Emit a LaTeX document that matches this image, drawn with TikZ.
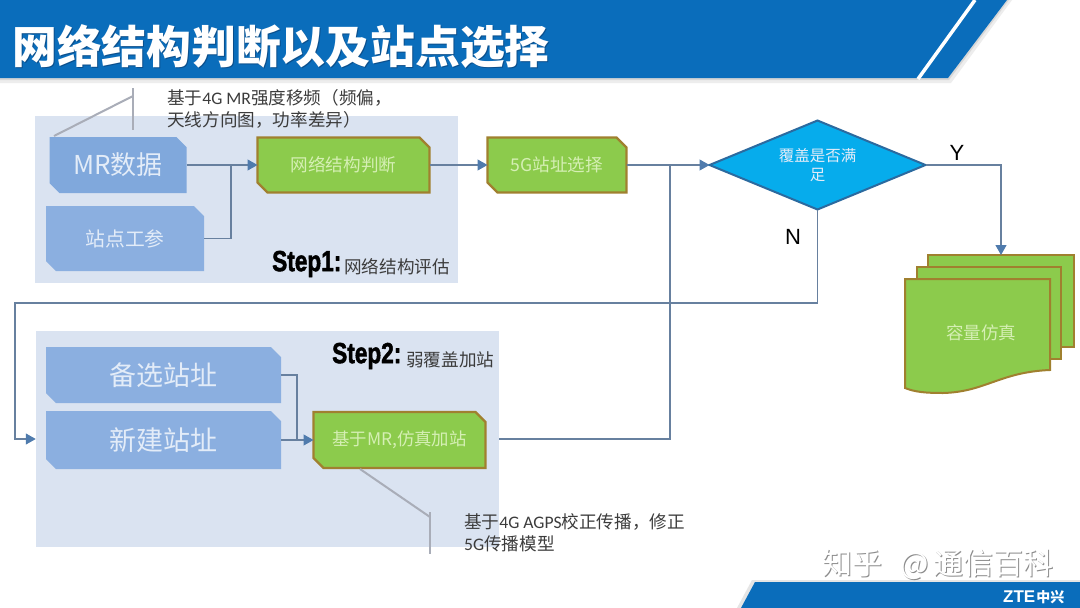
\documentclass[tikz,border=0pt]{standalone}
\usepackage{fontspec}
\usepackage{graphicx}
\usetikzlibrary{arrows.meta,shapes.geometric,shapes.misc}
\setmainfont{Carlito}
\newfontfamily\cjk{Noto Sans CJK SC}
\newfontfamily\cjkb{Noto Sans CJK SC Black}
\newfontfamily\lsans{Liberation Sans}
\newfontfamily\lsansheavy[FakeBold=2]{Liberation Sans Bold}
\newcommand{\fsz}[1]{\fontsize{#1}{#1}\selectfont}
\definecolor{barblue}{HTML}{0A6DBB}
\definecolor{bardark}{HTML}{0B4F8C}
\definecolor{panelbg}{HTML}{DAE3F1}
\definecolor{boxblue}{HTML}{8BAFE0}
\definecolor{boxblue2}{HTML}{80A8DC}
\definecolor{leafgreen}{HTML}{8CCB4C}
\definecolor{leafedge}{HTML}{A0802F}
\definecolor{diafill}{HTML}{06ACEC}
\definecolor{diaedge}{HTML}{2B6A9F}
\definecolor{wire}{HTML}{67809F}
\definecolor{tip}{HTML}{4F7BAD}
\definecolor{callgray}{HTML}{A9ADB8}
\definecolor{paletext}{HTML}{E3ECF8}
\definecolor{greentext}{HTML}{D5EFB4}
\definecolor{ink}{HTML}{3C3C3C}
\tikzset{
  x=1pt,y=-1pt,
  panelbox/.style={fill=panelbg,draw=none,inner sep=0pt,outer sep=0pt},
  bluebox/.style={chamfered rectangle,chamfered rectangle corners={north east,south west},
    chamfered rectangle xsep=5pt,chamfered rectangle ysep=5pt,fill=boxblue,draw=none,
    inner sep=0pt,outer sep=0pt,text=paletext,font=\cjk},
  greenbox/.style={chamfered rectangle,chamfered rectangle corners={north east,south west},
    chamfered rectangle xsep=5pt,chamfered rectangle ysep=5pt,fill=leafgreen,draw=leafedge,line width=2.2pt,
    inner sep=0pt,outer sep=0pt,text=greentext,font=\cjk},
  sheet/.style={rectangle,fill=leafgreen,draw=leafedge,line width=2pt,inner sep=0pt,outer sep=0pt},
  wireline/.style={draw=wire,line width=1.2pt},
  flow/.style={wireline,-{Triangle[length=10pt,width=11pt,fill=tip,color=tip]}},
  callout/.style={draw=callgray,line width=2pt},
  note/.style={anchor=west,inner sep=0pt,text=ink,align=left,font=\fsz{17.6}},
  yn/.style={inner sep=0pt,text=black,font=\lsans\fsz{22}},
}
\begin{document}
\begin{tikzpicture}
\useasboundingbox (0,0) rectangle (1080,608);
\fill[white] (0,0) rectangle (1080,608);
% title band
\fill[black!7] (0,78) -- (948,78) -- (1009,0) -- (1012,0) -- (951,83) -- (0,83) -- cycle;
\fill[black!16] (0,78) -- (948,78) -- (1007,0) -- (1009,0) -- (949,80) -- (0,80) -- cycle;
\fill[barblue] (0,0) -- (1007,0) -- (948,78) -- (0,78) -- cycle;
\draw[white,line width=3.5pt] (975,0) -- (918,79);
\node[inner sep=0pt,anchor=west,text=bardark,font=\cjkb\fsz{44.8}] (titleshade) at (13,48) {网络结构判断以及站点选择};
\node[inner sep=0pt,anchor=west,text=white,font=\cjkb\fsz{44.8}] (title) at (12,47) {网络结构判断以及站点选择};
% footer
\fill[black!10] (737,608) -- (752,580) -- (1080,580) -- (1080,608) -- cycle;
\fill[barblue] (741,608) -- (755,582) -- (1080,582) -- (1080,608) -- cycle;
\node[inner sep=0pt,anchor=west,text=white,font=\lsans\bfseries\fsz{17}] (zte) at (1003,597) {ZTE\kern1pt{\cjk\fsz{14}中兴}};
% panels
\node[panelbox,minimum width=423pt,minimum height=167pt] (panela) at (246.5,199.5) {};
\node[panelbox,minimum width=463.5pt,minimum height=216pt] (panelb) at (267.5,439) {};
% callouts
\coordinate (ca) at (133,96);
\coordinate (cb) at (430,517);
\draw[callout] (133,88) -- (133,130);
\draw[callout] (430,512) -- (430,554);
% nodes
\node[bluebox,fill=boxblue2,minimum width=137pt,minimum height=56pt,font=\cjk\fsz{26}] (mr) at (118,165) {MR数据};
\node[bluebox,minimum width=158pt,minimum height=65pt,font=\cjk\fsz{19.8}] (site) at (125,238.5) {站点工参};
\node[greenbox,minimum width=172pt,minimum height=55pt,font=\cjk\fsz{17.6}] (judge) at (343.5,165) {网络结构判断};
\node[greenbox,minimum width=139pt,minimum height=55pt,font=\cjk\fsz{17.6}] (pick) at (557,165) {5G站址选择};
\node[diamond,fill=diafill,draw=diaedge,line width=2pt,minimum width=216pt,minimum height=89pt,inner sep=0pt,outer sep=0pt,aspect=2.4] (dia) at (817.5,165) {};
\node[align=center,inner sep=0pt,text=paletext,font=\cjk\fsz{15.5},execute at begin node={\setlength{\baselineskip}{19pt}}] (dialabel) at (817.5,165) {覆盖是否满\\足};
\node[bluebox,minimum width=235pt,minimum height=56pt,font=\cjk\fsz{27}] (alt) at (163.5,375) {备选站址};
\node[bluebox,minimum width=235pt,minimum height=58pt,font=\cjk\fsz{27}] (newb) at (163.5,440) {新建站址};
\node[greenbox,minimum width=172pt,minimum height=56pt,font=\cjk\fsz{17.4}] (sim) at (399.5,440) {基于MR,仿真加站};
% document stack
\node[sheet,minimum width=146pt,minimum height=92pt] (back) at (1001,301) {};
\node[sheet,minimum width=144pt,minimum height=92pt] (mid) at (989,313) {};
\filldraw[fill=leafgreen,draw=leafedge,line width=2pt] (905,279) -- (1050,279) -- (1050,370)
  .. controls (1000,372) and (985,392) .. (943,393)
  .. controls (925,393) and (915,392) .. (905,388) -- cycle;
\node[inner sep=0pt,text=greentext,font=\cjk\fsz{17.5}] (cap) at (981,333) {容量仿真};
% callout leaders
\draw[callout] (54,136) -- (ca);
\draw[callout] (360,469) -- (cb);
% connectors
\coordinate (ja) at (231,165);
\coordinate (jb) at (297,440);
\coordinate (jc) at (670,165);
\coordinate (la) at (15,303);
\draw[flow] (mr.east) -- (judge.west);
\draw[wireline] (site.east) -| (ja);
\draw[flow] (judge.east) -- (pick.west);
\draw[flow] (pick.east) -- (dia.west);
\draw[flow] (dia.east) -| (back.north);
\draw[flow] (dia.south) |- (la) |- (panelb.west);
\draw[wireline] (alt.east) -| (jb);
\draw[flow] (newb.east) -- (sim.west);
\draw[wireline] (panelb.east) -| (jc);
% texts
\node[note] (notea) at (167,98) {{\cjk 基于}4G MR{\cjk 强度移频（频偏，}};
\node[note] (noteb) at (167,120) {{\cjk 天线方向图，功率差异）}};
\node[note] (notec) at (464,522) {{\cjk 基于}4G AGPS{\cjk 校正传播，修正}};
\node[note] (noted) at (464,544) {5G{\cjk 传播模型}};
\node[yn] (yes) at (957,153) {Y};
\node[yn] (no) at (793,237) {N};
\node[inner sep=0pt,anchor=west,text=black,font=\lsansheavy\fsz{29}] (stepa) at (272,264) {\scalebox{.78}[1]{Step1:}};
\node[inner sep=0pt,anchor=west,text=ink,font=\cjk\fsz{17.6}] (stepat) at (344,267) {网络结构评估};
\node[inner sep=0pt,anchor=west,text=black,font=\lsansheavy\fsz{29}] (stepb) at (332,356) {\scalebox{.78}[1]{Step2:}};
\node[inner sep=0pt,anchor=west,text=ink,font=\cjk\fsz{17.6}] (stepbt) at (406,360) {弱覆盖加站};
% watermark
\node[inner sep=0pt,anchor=west,text=black!45,font=\cjk\fsz{30}] (wms) at (823,565) {知乎\kern18pt @\kern5pt 通信百科};
\node[inner sep=0pt,anchor=west,text=white,font=\cjk\fsz{30}] (wm) at (822,564) {知乎\kern18pt @\kern5pt 通信百科};
\end{tikzpicture}
\end{document}
